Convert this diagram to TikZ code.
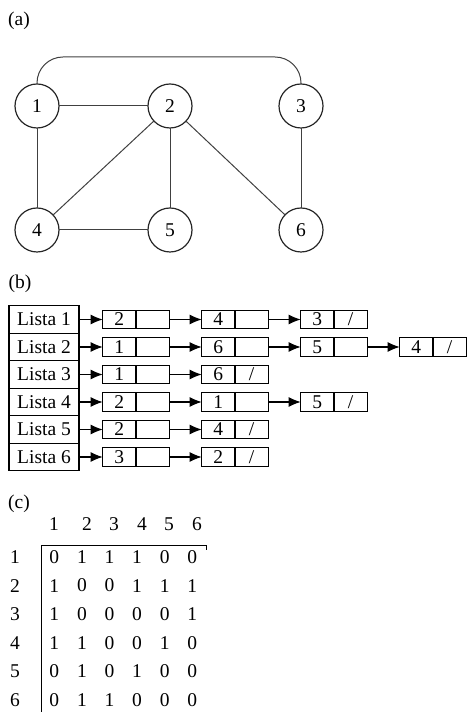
\documentclass[tikz,border=0pt]{standalone}
\usepackage{fontspec}
\setmainfont{Liberation Serif}
\usetikzlibrary{arrows.meta,positioning}

\begin{document}
\begin{tikzpicture}[
        x=1pt, y=1pt,
        font=\fontsize{19.5}{22}\selectfont,
        every node/.style={inner sep=0pt, outer sep=0pt},
        >={Latex[length=12pt,width=10pt]},
        vertex/.style={draw=black!85, circle, line width=1.2pt, minimum size=44pt},
        edge/.style={draw=black!75, line width=1pt},
        lista/.style={draw, line width=1.1pt, minimum width=70pt, minimum height=27.5pt},
        cell/.style={draw, line width=1.1pt, minimum width=66.6pt, minimum height=18.7pt,
            path picture={\draw[line width=1.1pt] (path picture bounding box.north) -- (path picture bounding box.south);}},
        link/.style={->, line width=1.1pt}
    ]
    \useasboundingbox (0,0) rectangle (466,712);

    % (a) graph
    \node (lbla) at (19,691) {(a)};
    \node[vertex] (n1) at (37,606) {1};
    \node[vertex, right=89pt of n1] (n2) {2};
    \node[vertex, right=87pt of n2] (n3) {3};
    \node[vertex, below=80pt of n1] (n4) {4};
    \node[vertex, below=80pt of n2] (n5) {5};
    \node[vertex, below=80pt of n3] (n6) {6};
    \coordinate (arctop) at (170,655);

    \draw[edge] (n1) -- (n2);
    \draw[edge] (n1) -- (n4);
    \draw[edge] (n2) -- (n4);
    \draw[edge] (n2) -- (n5);
    \draw[edge] (n2) -- (n6);
    \draw[edge] (n4) -- (n5);
    \draw[edge] (n3) -- (n6);
    \draw[edge, rounded corners=26pt] (n1.north) |- (arctop) -| (n3.north);

    % (b) adjacency lists
    \node (lblb) at (20,428) {(b)};
    \node[lista] (L1) at (44,392.5) {Lista 1};
    \node[lista, below=0pt of L1] (L2) {Lista 2};
    \node[lista, below=0pt of L2] (L3) {Lista 3};
    \node[lista, below=0pt of L3] (L4) {Lista 4};
    \node[lista, below=0pt of L4] (L5) {Lista 5};
    \node[lista, below=0pt of L5] (L6) {Lista 6};

    \node[cell, right=23.7pt of L1] (c11) {\makebox[33.3pt]{2}\makebox[33.3pt]{}};
    \node[cell, right=32.4pt of c11] (c12) {\makebox[33.3pt]{4}\makebox[33.3pt]{}};
    \node[cell, right=32.4pt of c12] (c13) {\makebox[33.3pt]{3}\makebox[33.3pt]{/}};

    \node[cell, right=23.7pt of L2] (c21) {\makebox[33.3pt]{1}\makebox[33.3pt]{}};
    \node[cell, right=32.4pt of c21] (c22) {\makebox[33.3pt]{6}\makebox[33.3pt]{}};
    \node[cell, right=32.4pt of c22] (c23) {\makebox[33.3pt]{5}\makebox[33.3pt]{}};
    \node[cell, right=32.4pt of c23] (c24) {\makebox[33.3pt]{4}\makebox[33.3pt]{/}};

    \node[cell, right=23.7pt of L3] (c31) {\makebox[33.3pt]{1}\makebox[33.3pt]{}};
    \node[cell, right=32.4pt of c31] (c32) {\makebox[33.3pt]{6}\makebox[33.3pt]{/}};

    \node[cell, right=23.7pt of L4] (c41) {\makebox[33.3pt]{2}\makebox[33.3pt]{}};
    \node[cell, right=32.4pt of c41] (c42) {\makebox[33.3pt]{1}\makebox[33.3pt]{}};
    \node[cell, right=32.4pt of c42] (c43) {\makebox[33.3pt]{5}\makebox[33.3pt]{/}};

    \node[cell, right=23.7pt of L5] (c51) {\makebox[33.3pt]{2}\makebox[33.3pt]{}};
    \node[cell, right=32.4pt of c51] (c52) {\makebox[33.3pt]{4}\makebox[33.3pt]{/}};

    \node[cell, right=23.7pt of L6] (c61) {\makebox[33.3pt]{3}\makebox[33.3pt]{}};
    \node[cell, right=32.4pt of c61] (c62) {\makebox[33.3pt]{2}\makebox[33.3pt]{/}};

    \draw[link] (L1) -- (c11);
    \draw[link] (c11) -- (c12);
    \draw[link] (c12) -- (c13);
    \draw[link] (L2) -- (c21);
    \draw[link] (c21) -- (c22);
    \draw[link] (c22) -- (c23);
    \draw[link] (c23) -- (c24);
    \draw[link] (L3) -- (c31);
    \draw[link] (c31) -- (c32);
    \draw[link] (L4) -- (c41);
    \draw[link] (c41) -- (c42);
    \draw[link] (c42) -- (c43);
    \draw[link] (L5) -- (c51);
    \draw[link] (c51) -- (c52);
    \draw[link] (L6) -- (c61);
    \draw[link] (c61) -- (c62);

    % (c) adjacency matrix
    \node (lblc) at (19,208) {(c)};
    \foreach \c/\x in {1/54,2/87,3/114,4/142,5/169,6/197}
        \node (h\c) at (\x,188) {\c};
    \foreach \r/\vals in {1/{0,1,1,1,0,0}, 2/{1,0,0,1,1,1}, 3/{1,0,0,0,0,1},
                          4/{1,1,0,0,1,0}, 5/{0,1,0,1,0,0}, 6/{0,1,1,0,0,0}} {
        \node (r\r) at (15,{155-28.6*(\r-1)}) {\r};
        \foreach \v [count=\c] in \vals
            \node (m\r\c) at ({54.3+27.6*(\c-1)},{155-28.6*(\r-1)}) {\v};
    }
    \draw[line width=1.1pt] (41.7,0) |- (206.7,166.3) -- ++(0,-4);

\end{tikzpicture}
\end{document}
